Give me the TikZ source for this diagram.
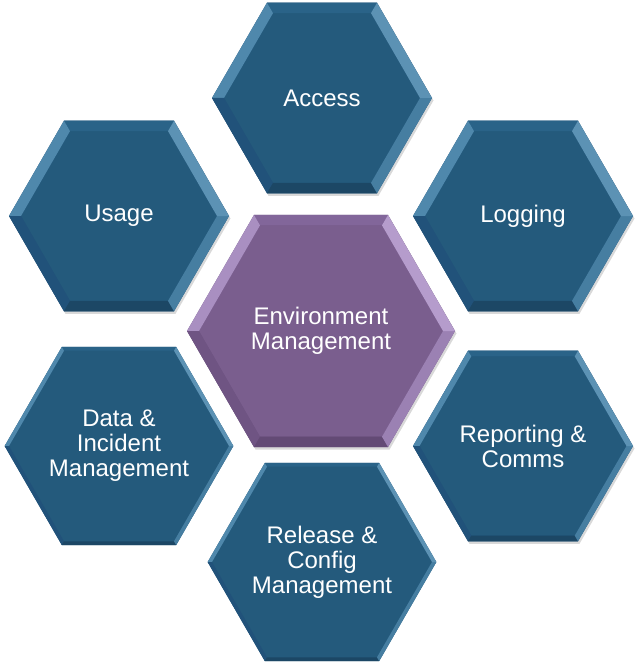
\documentclass[tikz,border=0pt]{standalone}
\usepackage{fontspec}
\setmainfont{Liberation Sans}
\usetikzlibrary{shapes.geometric,shadows}

\definecolor{hexblue}{HTML}{245A7C}
\definecolor{bluetop}{HTML}{2A6388}
\definecolor{blueul}{HTML}{4F88AC}
\definecolor{bluell}{HTML}{21527A}
\definecolor{bluebot}{HTML}{1C4765}
\definecolor{bluelr}{HTML}{467EA1}
\definecolor{blueur}{HTML}{5C92B4}
\definecolor{hexpurple}{HTML}{7A5E8E}
\definecolor{purptop}{HTML}{82669A}
\definecolor{purpul}{HTML}{A98FC1}
\definecolor{purpll}{HTML}{6F5483}
\definecolor{purpbot}{HTML}{634A75}
\definecolor{purplr}{HTML}{9B81B3}
\definecolor{purpur}{HTML}{B59CCC}

\tikzset{
  hexcell/.style={regular polygon, regular polygon sides=6, inner sep=0pt, outer sep=0pt},
  hexouter/.style={hexcell, minimum size=220pt, fill=bluell,
    drop shadow={shadow xshift=1.5pt, shadow yshift=-2.5pt, opacity=0.3}},
  hexinner/.style={hexcell, minimum size=196pt, fill=hexblue, text=white,
    align=center, font=\fontsize{24}{25}\selectfont},
}

\begin{document}
\begin{tikzpicture}[x=1pt,y=-1pt]
   \useasboundingbox (0,0) rectangle (637,666);

   % outer ring of cells
   \foreach \nm/\pos/\txt in {access/{(322,98)}/Access,
                              usage/{(119,216)}/Usage,
                              logging/{(523,216)}/Logging,
                              data/{(119,446)}/{Data \&\\Incident\\Management},
                              reporting/{(523,446)}/{Reporting \&\\Comms},
                              release/{(322,562)}/{Release \&\\Config\\Management}}{
      \node[hexouter] (\nm) at \pos {};
      \node[hexinner] (\nm in) at \pos {\txt};
      % bevel: top, upper left, lower left, bottom, lower right, upper right
      \foreach \i/\j/\c in {1/2/bluetop, 2/3/blueul, 3/4/bluell,
                            4/5/bluebot, 5/6/bluelr, 6/1/blueur}
         \fill[\c] (\nm.corner \i) -- (\nm.corner \j) -- (\nm in.corner \j) -- (\nm in.corner \i) -- cycle;
   }

   % centre cell
   \node[hexouter, minimum size=268pt, fill=purpll] (env) at (321,331) {};
   \node[hexinner, minimum size=244pt, fill=hexpurple] (env in) at (321,331) {Environment\\Management};
   \foreach \i/\j/\c in {1/2/purptop, 2/3/purpul, 3/4/purpll,
                         4/5/purpbot, 5/6/purplr, 6/1/purpur}
      \fill[\c] (env.corner \i) -- (env.corner \j) -- (env in.corner \j) -- (env in.corner \i) -- cycle;
\end{tikzpicture}
\end{document}
